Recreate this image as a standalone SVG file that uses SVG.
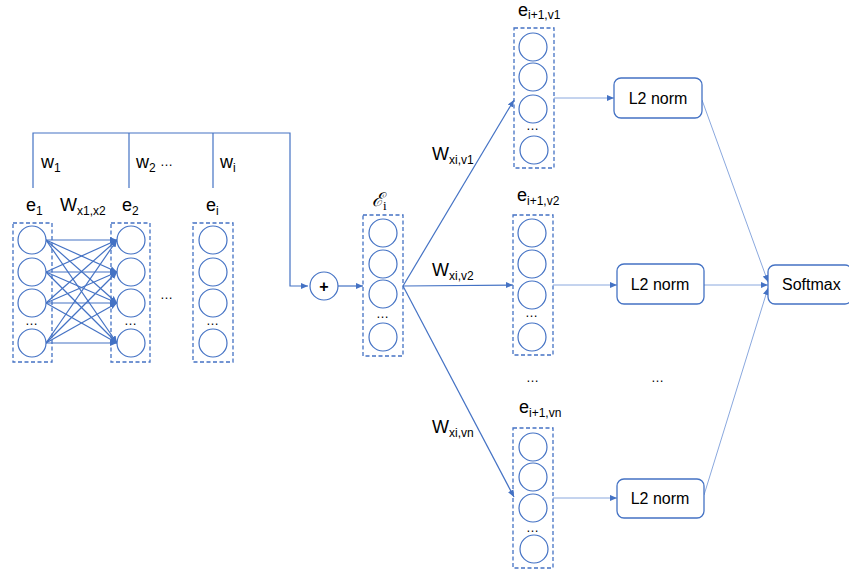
<svg xmlns="http://www.w3.org/2000/svg" width="849" height="576" viewBox="0 0 849 576">
<defs>
<marker id="ah" markerWidth="8" markerHeight="8" refX="7" refY="4" orient="auto" markerUnits="userSpaceOnUse">
<path d="M0,1 L7,4 L0,7 Z" fill="#4472C4"/>
</marker>
<marker id="ahl" markerWidth="8" markerHeight="8" refX="7" refY="4" orient="auto" markerUnits="userSpaceOnUse">
<path d="M0,1 L7,4 L0,7 Z" fill="#4472C4"/>
</marker>
<style>
.box{fill:none;stroke:#4472C4;stroke-width:1.3;stroke-dasharray:4 2.5}
.n{fill:#fff;stroke:#4472C4;stroke-width:1.2}
.ln{fill:none;stroke:#4472C4;stroke-width:1.2}
.lt{fill:none;stroke:#8AA8DE;stroke-width:1}
.rb{fill:#fff;stroke:#4472C4;stroke-width:1.3}
text{font-family:"Liberation Sans",Arial,sans-serif;fill:#000}
.lab{font-size:18px}
.sub{font-size:12px}
.dots{font-size:13px}
.bt{font-size:16px}
</style>
</defs>
<rect width="849" height="576" fill="#fff"/>

<g id="connectors">
<polyline class="ln" points="33,188 33,133 290,133 290,286 308,286" marker-end="url(#ah)"/>
<line class="ln" x1="129" y1="133" x2="129" y2="188"/>
<line class="ln" x1="213" y1="133" x2="213" y2="188"/>
<g class="ln" marker-end="url(#ah)">
<line x1="46" y1="240" x2="117" y2="240"/>
<line x1="46" y1="240" x2="117" y2="272"/>
<line x1="46" y1="240" x2="117" y2="303"/>
<line x1="46" y1="240" x2="117" y2="343"/>
<line x1="46" y1="272" x2="117" y2="240"/>
<line x1="46" y1="272" x2="117" y2="272"/>
<line x1="46" y1="272" x2="117" y2="303"/>
<line x1="46" y1="272" x2="117" y2="343"/>
<line x1="46" y1="303" x2="117" y2="240"/>
<line x1="46" y1="303" x2="117" y2="272"/>
<line x1="46" y1="303" x2="117" y2="303"/>
<line x1="46" y1="303" x2="117" y2="343"/>
<line x1="46" y1="343" x2="117" y2="240"/>
<line x1="46" y1="343" x2="117" y2="272"/>
<line x1="46" y1="343" x2="117" y2="303"/>
<line x1="46" y1="343" x2="117" y2="343"/>
</g>
<line class="ln" x1="338" y1="286" x2="363" y2="286" marker-end="url(#ah)"/>
<line class="ln" x1="403" y1="286" x2="514" y2="100" marker-end="url(#ah)"/>
<line class="ln" x1="403" y1="286" x2="513" y2="285" marker-end="url(#ah)"/>
<line class="ln" x1="403" y1="286" x2="514" y2="497" marker-end="url(#ah)"/>
<line class="lt" x1="554" y1="98" x2="614" y2="98" marker-end="url(#ahl)"/>
<line class="lt" x1="553" y1="285" x2="617" y2="285" marker-end="url(#ahl)"/>
<line class="lt" x1="553" y1="498" x2="617" y2="498" marker-end="url(#ahl)"/>
<line class="lt" x1="702" y1="100" x2="768" y2="282" marker-end="url(#ahl)"/>
<line class="lt" x1="704" y1="285" x2="768" y2="285" marker-end="url(#ahl)"/>
<line class="lt" x1="704" y1="495" x2="768" y2="288" marker-end="url(#ahl)"/>
</g>

<g id="weights">
<text class="lab" x="41" y="168">w<tspan class="sub" dy="4">1</tspan></text>
<text class="lab" x="136" y="168">w<tspan class="sub" dy="4">2</tspan></text>
<text class="dots" x="160" y="166">…</text>
<text class="lab" x="220" y="168">w<tspan class="sub" dy="4">i</tspan></text>
<text class="lab" x="60" y="211">W<tspan class="sub" dy="4">x1,x2</tspan></text>
</g>

<g id="e1">
<text class="lab" x="26" y="211">e<tspan class="sub" dy="4">1</tspan></text>
<rect class="box" x="13" y="223" width="39" height="139"/>
<circle class="n" cx="32" cy="240" r="14"/>
<circle class="n" cx="32" cy="272" r="14"/>
<circle class="n" cx="32" cy="303" r="14"/>
<text class="dots" x="25" y="325">…</text>
<circle class="n" cx="32" cy="343" r="14"/>
</g>

<g id="e2">
<text class="lab" x="122" y="211">e<tspan class="sub" dy="4">2</tspan></text>
<rect class="box" x="111" y="223" width="39" height="139"/>
<circle class="n" cx="131" cy="240" r="14"/>
<circle class="n" cx="131" cy="272" r="14"/>
<circle class="n" cx="131" cy="303" r="14"/>
<text class="dots" x="124" y="325">…</text>
<circle class="n" cx="131" cy="343" r="14"/>
</g>

<text id="dots-mid" class="dots" x="160" y="299">…</text>

<g id="ei">
<text class="lab" x="206" y="211">e<tspan class="sub" dy="4">i</tspan></text>
<rect class="box" x="193" y="223" width="40" height="139"/>
<circle class="n" cx="213" cy="240" r="14"/>
<circle class="n" cx="213" cy="272" r="14"/>
<circle class="n" cx="213" cy="303" r="14"/>
<text class="dots" x="206" y="325">…</text>
<circle class="n" cx="213" cy="343" r="14"/>
</g>

<g id="plus">
<circle class="n" cx="324" cy="286" r="14"/>
<text x="324" y="291.5" text-anchor="middle" font-size="16" font-weight="bold">+</text>
</g>

<g id="Ei">
<text x="372" y="206" font-size="19" font-style="italic" style="font-family:'DejaVu Serif',serif">ℰ<tspan style="font-family:'Liberation Serif',serif;font-style:normal" font-size="13" dy="4">i</tspan></text>
<rect class="box" x="363" y="215" width="40" height="141"/>
<circle class="n" cx="383" cy="233" r="14"/>
<circle class="n" cx="383" cy="264" r="14"/>
<circle class="n" cx="383" cy="294" r="14"/>
<text class="dots" x="376" y="318">…</text>
<circle class="n" cx="383" cy="337" r="14"/>
</g>

<g id="wlabels">
<text class="lab" x="432" y="160">W<tspan class="sub" dy="4">xi,v1</tspan></text>
<text class="lab" x="432" y="276">W<tspan class="sub" dy="4">xi,v2</tspan></text>
<text class="lab" x="432" y="433">W<tspan class="sub" dy="4">xi,vn</tspan></text>
</g>

<g id="ev1">
<text class="lab" x="518" y="16">e<tspan class="sub" dy="3">i+1,v1</tspan></text>
<rect class="box" x="514" y="28" width="40" height="140"/>
<circle class="n" cx="533" cy="47" r="14"/>
<circle class="n" cx="533" cy="77" r="14"/>
<circle class="n" cx="533" cy="109" r="14"/>
<text class="dots" x="526" y="130">…</text>
<circle class="n" cx="534" cy="150" r="14"/>
</g>

<g id="ev2">
<text class="lab" x="517" y="201">e<tspan class="sub" dy="4">i+1,v2</tspan></text>
<rect class="box" x="513" y="215" width="40" height="140"/>
<circle class="n" cx="532" cy="233" r="14"/>
<circle class="n" cx="532" cy="264" r="14"/>
<circle class="n" cx="532" cy="295" r="14"/>
<text class="dots" x="525" y="317">…</text>
<circle class="n" cx="532" cy="337" r="14"/>
</g>

<text id="dots-col" class="dots" x="526" y="382">…</text>
<text id="dots-norm" class="dots" x="651" y="382">…</text>

<g id="evn">
<text class="lab" x="519" y="413">e<tspan class="sub" dy="4">i+1,vn</tspan></text>
<rect class="box" x="513" y="428" width="40" height="140"/>
<circle class="n" cx="533" cy="447" r="14"/>
<circle class="n" cx="533" cy="477" r="14"/>
<circle class="n" cx="533" cy="508" r="14"/>
<text class="dots" x="526" y="532">…</text>
<circle class="n" cx="534" cy="549" r="14"/>
</g>

<g id="norm1">
<rect class="rb" x="614" y="78" width="88" height="40" rx="7"/>
<text class="bt" x="658" y="104" text-anchor="middle">L2 norm</text>
</g>
<g id="norm2">
<rect class="rb" x="617" y="264" width="87" height="40" rx="7"/>
<text class="bt" x="660" y="290" text-anchor="middle">L2 norm</text>
</g>
<g id="normn">
<rect class="rb" x="617" y="479" width="87" height="39" rx="7"/>
<text class="bt" x="660" y="504" text-anchor="middle">L2 norm</text>
</g>
<g id="softmax">
<rect class="rb" x="768" y="265" width="84" height="39" rx="7"/>
<text class="bt" x="782" y="290">Softmax</text>
</g>
</svg>
